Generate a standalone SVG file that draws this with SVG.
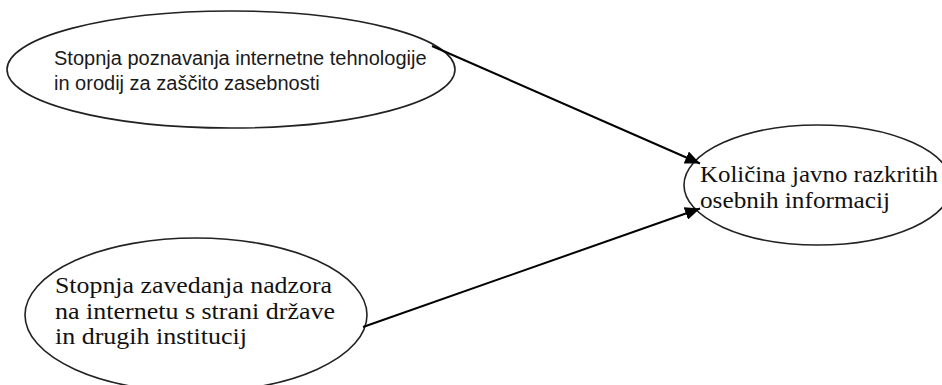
<svg xmlns="http://www.w3.org/2000/svg" width="942" height="385" viewBox="0 0 942 385">
<style>
.node{fill:#fff;stroke:#222;stroke-width:1.6}
.sans{font-family:"Liberation Sans",Arial,sans-serif;font-size:20px;fill:#1a1a1a}
.serif{font-family:"Liberation Serif","Times New Roman",serif;font-size:23px;fill:#111}
.edge{stroke:#000;stroke-width:2;fill:none}
</style>
<defs>
<marker id="arr" markerWidth="16" markerHeight="13" refX="15" refY="6.5" orient="auto" markerUnits="userSpaceOnUse">
<path d="M0,0 L15,6.5 L0,13 z" fill="#000"/>
</marker>
</defs>
<rect width="942" height="385" fill="#fff"/>
<g id="n1">
<ellipse class="node" cx="231" cy="69.5" rx="224" ry="58.5"/>
<text class="sans" x="54" y="65">Stopnja poznavanja internetne tehnologije</text>
<text class="sans" x="54" y="90">in orodij za zaščito zasebnosti</text>
</g>
<g id="n2">
<ellipse class="node" cx="196" cy="315" rx="171" ry="77"/>
<text class="serif" x="55" y="293" textLength="277" lengthAdjust="spacingAndGlyphs">Stopnja zavedanja nadzora</text>
<text class="serif" x="55" y="318.5" textLength="280" lengthAdjust="spacingAndGlyphs">na internetu s strani države</text>
<text class="serif" x="55" y="344" textLength="192" lengthAdjust="spacingAndGlyphs">in drugih institucij</text>
</g>
<g id="n3">
<ellipse class="node" cx="818" cy="185" rx="134" ry="60"/>
<text class="serif" x="700" y="182" textLength="238" lengthAdjust="spacingAndGlyphs">Količina javno razkritih</text>
<text class="serif" x="700" y="208" textLength="190" lengthAdjust="spacingAndGlyphs">osebnih informacij</text>
</g>
<g id="edges">
<line class="edge" x1="432" y1="46" x2="700" y2="163.5" marker-end="url(#arr)"/>
<line class="edge" x1="363" y1="327" x2="700" y2="208.5" marker-end="url(#arr)"/>
</g>
</svg>
